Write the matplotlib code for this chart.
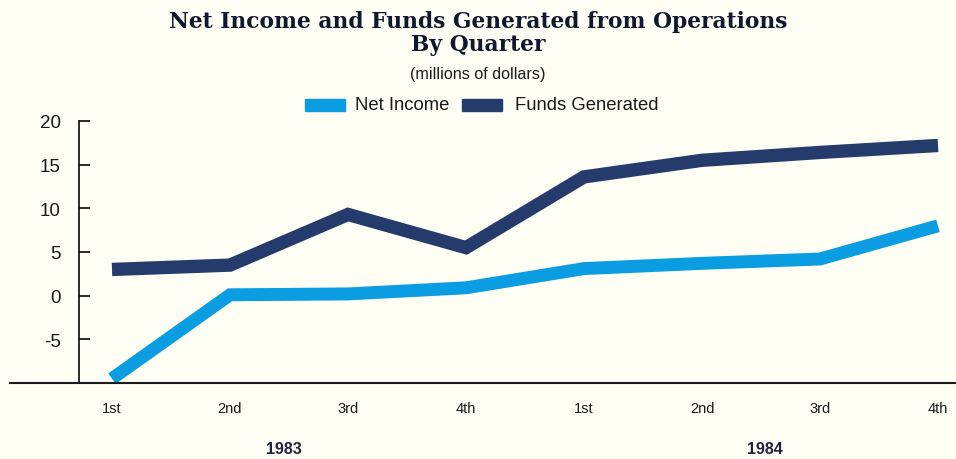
import matplotlib
matplotlib.use("Agg")
import matplotlib.pyplot as plt
from matplotlib.lines import Line2D
from matplotlib.patches import Rectangle

quarters = ["1st", "2nd", "3rd", "4th", "1st", "2nd", "3rd", "4th"]
years = ["1983", "1984"]
net_income = [-9.5, 0.1, 0.2, 0.9, 3.1, 3.7, 4.2, 8.0]
funds_generated = [3.0, 3.5, 9.3, 5.5, 13.6, 15.5, 16.4, 17.2]
yticks = [-5, 0, 5, 10, 15, 20]

bg = "#fffef4"
light = "#0a9de2"
navy = "#243b6c"
ink = "#1a1a1a"

W, H = 956, 460
fig = plt.figure(figsize=(W / 100, H / 100), dpi=100, facecolor=bg)

ax_l, ax_r, ax_b, ax_t = 79, 956, 384, 122
ax = fig.add_axes([ax_l / W, 1 - ax_b / H, (ax_r - ax_l) / W, (ax_b - ax_t) / H])
ax.set_facecolor(bg)

x = list(range(len(quarters)))
ax.plot(x, funds_generated, color=navy, lw=9.6, solid_capstyle="butt", solid_joinstyle="miter")
ax.plot(x, net_income, color=light, lw=9.3, solid_capstyle="butt", solid_joinstyle="miter")

x0, x7 = 112, 938
sp = (x7 - x0) / 7
ax.set_xlim(-(x0 - ax_l) / sp, 7 + (ax_r - x7) / sp)
ax.set_ylim(-10, 20)

for s in ["top", "right", "bottom"]:
    ax.spines[s].set_visible(False)
ax.spines["left"].set_color(ink)
ax.spines["left"].set_linewidth(1.3)

ax.set_yticks(yticks)
ax.set_yticklabels([str(v) for v in yticks])
ax.tick_params(axis="y", direction="in", length=8, width=1.3, color=ink,
               labelsize=13.5, pad=13, labelcolor=ink)
ax.set_xticks(x)
ax.set_xticklabels(quarters)
ax.tick_params(axis="x", length=0, labelsize=10.5, pad=13, labelcolor=ink)
for lab in ax.get_yticklabels() + ax.get_xticklabels():
    lab.set_fontfamily("Liberation Sans")

# bottom axis line extending to the left edge
fig.add_artist(Line2D([10 / W, 1.0], [1 - ax_b / H, 1 - ax_b / H], color=ink, lw=1.5))

# year labels under each group of quarters
year_pos = [1.46, 5.53]
for xp, yr in zip(year_pos, years):
    ax.text(xp, -17.45, yr, ha="center", va="center", fontsize=11.5, fontweight="bold",
            family="Liberation Sans", color="#1c2440")

# titles
tfont = dict(ha="center", va="center", fontsize=15.7, fontweight="heavy",
             family="DejaVu Serif", color="#101830")
fig.text(0.5, 1 - 22 / H, "Net Income and Funds Generated from Operations", **tfont)
fig.text(0.5, 1 - 45 / H, "By Quarter", **tfont)
fig.text(0.5, 1 - 74 / H, "(millions of dollars)", ha="center", va="center",
         fontsize=11.6, family="Liberation Sans", color=ink)

# legend
ly = 1 - 106 / H
fig.add_artist(Rectangle((305 / W, ly - 6 / H), 40 / W, 12 / H, color=light, transform=fig.transFigure))
fig.text(355 / W, ly, "Net Income", ha="left", va="center", fontsize=13.3,
         family="Liberation Sans", color=ink)
fig.add_artist(Rectangle((462 / W, ly - 6 / H), 40 / W, 12 / H, color=navy, transform=fig.transFigure))
fig.text(515 / W, ly, "Funds Generated", ha="left", va="center", fontsize=13.3,
         family="Liberation Sans", color=ink)

fig.savefig("out.png", dpi=100, facecolor=bg)
